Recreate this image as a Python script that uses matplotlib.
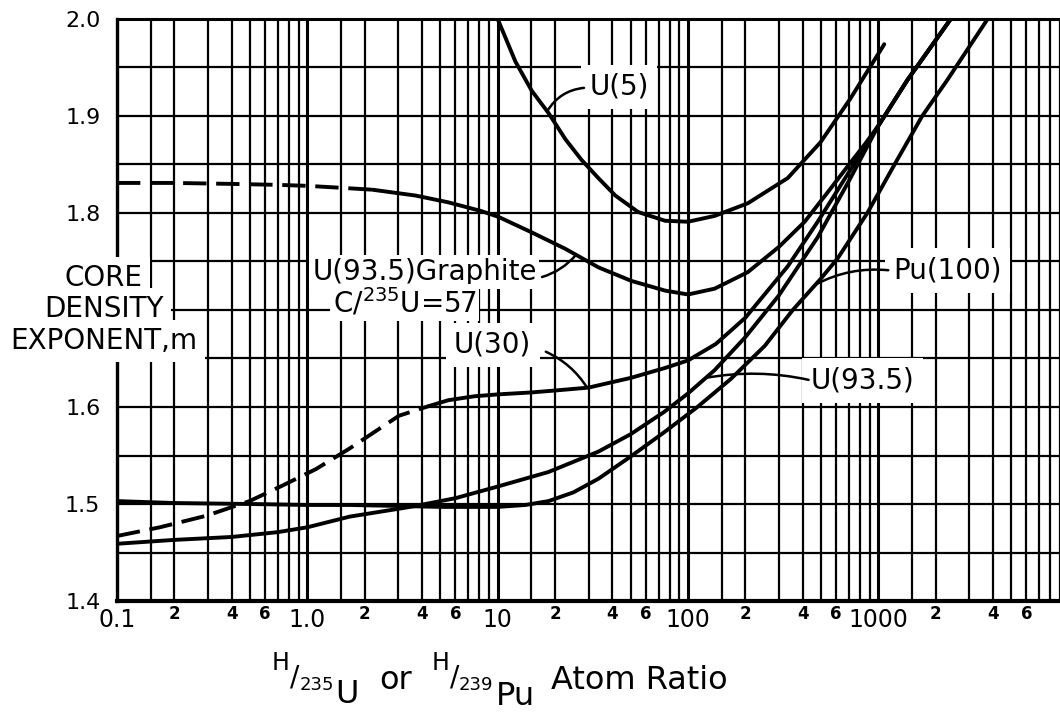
import numpy as np
import matplotlib
matplotlib.use("Agg")
import matplotlib.pyplot as plt
from matplotlib.ticker import FixedLocator

W, H = 1060, 713

# grafikten okunan egriler (x: H/U atom orani, y: m)
u5_x = [10.0, 12.4, 15.1, 18.5, 22.7, 27.5, 33.8, 41.5, 54.7, 75.8, 100, 138, 206, 334, 497, 713, 1074]
u5_y = [2.0, 1.956, 1.926, 1.903, 1.876, 1.855, 1.836, 1.818, 1.801, 1.792, 1.791, 1.797, 1.810, 1.836, 1.873, 1.918, 1.974]

gr_dash_x = [0.1, 0.2, 0.4, 0.7, 1.0, 1.5, 2.2]
gr_dash_y = [1.831, 1.831, 1.830, 1.829, 1.828, 1.826, 1.824]
gr_x = [2.2, 3.7, 5.5, 8.2, 10.1, 15.1, 22.7, 33.8, 50.4, 75.8, 100, 138, 206, 300, 410, 560, 689, 850, 1000, 1420, 2400]
gr_y = [1.824, 1.818, 1.811, 1.802, 1.796, 1.780, 1.763, 1.744, 1.730, 1.720, 1.716, 1.722, 1.739, 1.765, 1.791, 1.825, 1.848, 1.871, 1.890, 1.937, 2.0]

u30_dash_x = [0.1, 0.168, 0.296, 0.497, 0.74, 1.11, 1.66, 3.03, 4.36]
u30_dash_y = [1.467, 1.476, 1.488, 1.503, 1.519, 1.536, 1.557, 1.591, 1.601]
u30_x = [4.36, 5.5, 7.5, 10, 15, 20, 30, 50, 75, 100, 140, 200, 334, 480, 700, 1000, 1420, 2400]
u30_y = [1.601, 1.607, 1.611, 1.613, 1.615, 1.617, 1.620, 1.630, 1.640, 1.648, 1.665, 1.692, 1.745, 1.791, 1.842, 1.890, 1.937, 2.0]

u935_x = [0.1, 0.2, 0.4, 0.7, 1.0, 1.67, 3.0, 3.7, 6, 10, 18.5, 33.8, 50, 75, 100, 138, 200, 300, 480, 700, 1000, 1420, 2400]
u935_y = [1.459, 1.463, 1.466, 1.471, 1.476, 1.487, 1.495, 1.498, 1.506, 1.518, 1.533, 1.554, 1.572, 1.595, 1.614, 1.638, 1.672, 1.715, 1.775, 1.833, 1.890, 1.937, 2.0]

pu_x = [0.1, 0.2, 0.5, 1, 1.67, 3, 5, 10, 14, 18.5, 25, 33.8, 50, 75, 112, 168, 253, 355, 497, 610, 875, 1257, 1700, 2300, 3750]
pu_y = [1.503, 1.501, 1.500, 1.499, 1.499, 1.498, 1.497, 1.497, 1.499, 1.503, 1.512, 1.526, 1.549, 1.574, 1.600, 1.629, 1.663, 1.700, 1.732, 1.753, 1.800, 1.855, 1.900, 1.937, 2.0]

decades = [0.1, 1, 10, 100, 1000]
major_labels = ["0.1", "1.0", "10", "100", "1000"]
subs = [1.5, 2, 3, 4, 5, 6, 7, 8, 9]
sub_labels = {2: "2", 4: "4", 6: "6"}
y_ticks = [1.4, 1.5, 1.6, 1.7, 1.8, 1.9, 2.0]
y_labels = ["1.4", "1.5", "1.6", "", "1.8", "1.9", "2.0"]


def on_curve(xs, ys, x):
    return float(np.interp(np.log10(x), np.log10(xs), ys))


fig = plt.figure(figsize=(W / 100, H / 100), dpi=100)
ax = fig.add_axes([117 / W, 1 - 601 / H, 1 - 117 / W, 582 / H])
ax.set_xscale("log")
ax.set_xlim(0.1, 8800)
ax.set_ylim(1.4, 2.0)

minor_x = [d * s for d in decades for s in subs]
minor_lab = [sub_labels.get(s, "") for d in decades for s in subs]
ax.set_xticks(decades, major_labels)
ax.set_xticks(minor_x, minor_lab, minor=True)
ax.set_yticks(y_ticks, y_labels)
ax.yaxis.set_minor_locator(FixedLocator(np.arange(1.4, 2.01, 0.05)))
for t in ax.get_xticklabels(minor=True):
    t.set_fontweight("bold")

ax.set_axisbelow(True)
ax.grid(True, which="major", axis="x", color="k", lw=2.2)
ax.grid(True, which="minor", axis="x", color="k", lw=1.6)
ax.grid(True, which="both", axis="y", color="k", lw=1.6)

ax.tick_params(which="both", length=0)
ax.tick_params(axis="x", which="major", labelsize=17, pad=5)
ax.tick_params(axis="x", which="minor", labelsize=12, pad=3)
ax.tick_params(axis="y", labelsize=16, pad=12)

for side, w in [("left", 2.4), ("bottom", 3.0), ("top", 2.2)]:
    ax.spines[side].set_linewidth(w)
ax.spines["right"].set_visible(False)

lw = 2.8
dash = (0, (6, 2.5))
kw = dict(color="k", lw=lw, solid_capstyle="round")
ax.plot(u5_x, u5_y, **kw)
ax.plot(gr_dash_x, gr_dash_y, ls=dash, **kw)
ax.plot(gr_x, gr_y, **kw)
ax.plot(u30_dash_x, u30_dash_y, ls=dash, **kw)
ax.plot(u30_x, u30_y, **kw)
ax.plot(u935_x, u935_y, **kw)
ax.plot(pu_x, pu_y, **kw)

# etiketler
box = dict(facecolor="white", edgecolor="none", pad=6)
tkw = dict(fontsize=20, va="center", zorder=4, bbox=box)
ax.text(43.4, 1.930, "U(5)", ha="center", **tkw)
ax.text(1.06, 1.739, "U(93.5)Graphite", ha="left", fontsize=20, va="center", zorder=4,
        bbox=dict(facecolor="white", edgecolor="none", pad=2))
ax.text(1.36, 1.708, "C/$^{235}$U=57", ha="left", fontsize=20, va="center", zorder=4,
        bbox=dict(facecolor="white", edgecolor="none", pad=2))
ax.text(5.9, 1.664, "U(30)", ha="left", **tkw)
ax.text(441, 1.627, "U(93.5)", ha="left", **tkw)
ax.text(1200, 1.741, "Pu(100)", ha="left", **tkw)

# isaret cizgileri
lkw = dict(arrowstyle="-", lw=1.8, color="k", shrinkA=0, shrinkB=0)
def leader(x0, y0, xs, ys, x1, rad):
    ax.annotate("", xy=(x1, on_curve(xs, ys, x1)), xytext=(x0, y0), zorder=5,
                arrowprops=dict(connectionstyle=f"arc3,rad={rad}", **lkw))

leader(28.4, 1.929, u5_x, u5_y, 18.2, 0.25)
leader(17.1, 1.734, gr_x, gr_y, 25.8, 0.15)
leader(17.9, 1.657, u30_x, u30_y, 29.5, -0.15)
leader(430, 1.628, u935_x, u935_y, 124, 0.1)
leader(1127, 1.741, pu_x, pu_y, 468, 0.15)

# sol eksen basligi
fbox = dict(facecolor="white", edgecolor="none", pad=5)
for s, yy in [("CORE", 278), ("DENSITY", 309), ("EXPONENT,m", 341)]:
    fig.text(104 / W, 1 - yy / H, s, fontsize=20, ha="center", va="center", bbox=fbox, zorder=6)

# alt eksen basligi
r = fig.canvas.get_renderer()
def piece(s, x, base, size, gap=0):
    t = fig.text(x / W, 1 - base / H, s, fontsize=size, ha="left", va="baseline")
    return t.get_window_extent(renderer=r).x1 + gap

x = 272
x = piece("H", x, 670, 17)
x = piece("/", x, 686, 20)
x = piece("235", x, 690, 13, 2)
x = piece("U", x, 703, 23, 20)
x = piece("or", x, 689, 23, 20)
x = piece("H", x, 670, 17)
x = piece("/", x, 686, 20)
x = piece("239", x, 690, 13, 2)
x = piece("Pu", x, 705, 23, 16)
x = piece("Atom Ratio", x, 689, 23)

fig.savefig("out.png", dpi=100)
